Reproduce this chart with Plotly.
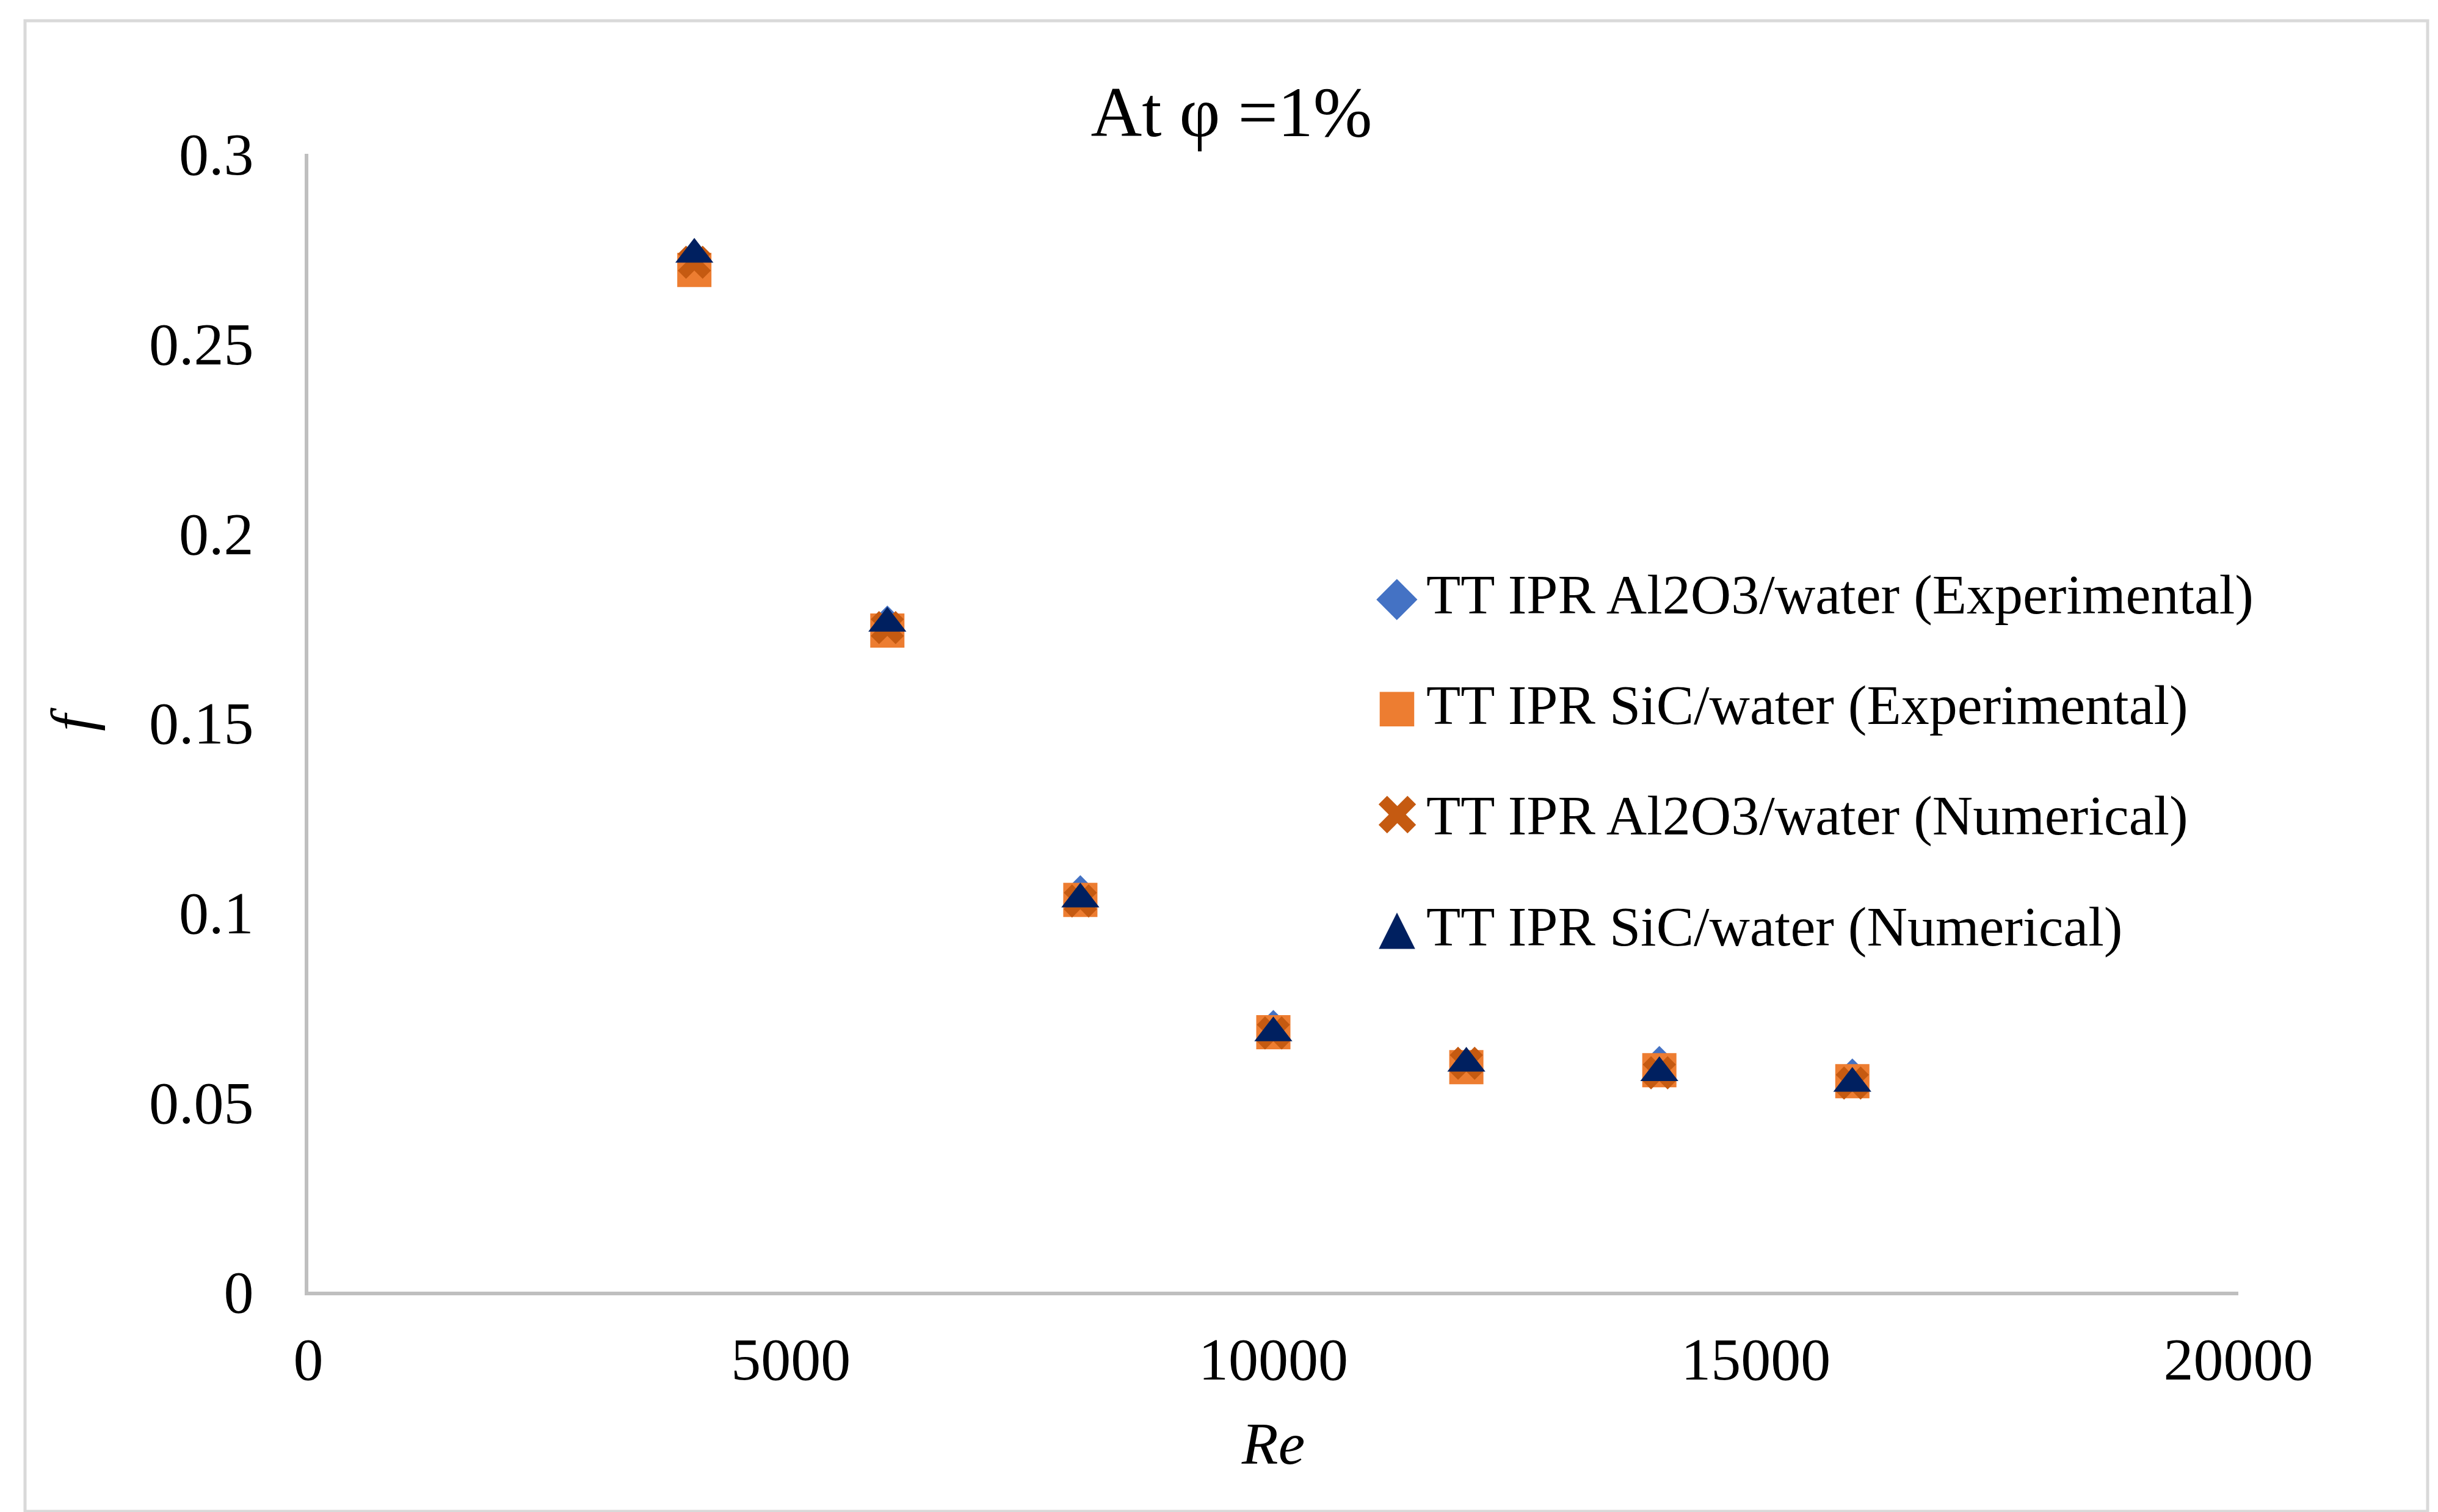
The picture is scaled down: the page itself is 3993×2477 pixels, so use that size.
import plotly.graph_objects as go

re_values = [4000, 6000, 8000, 10000, 12000, 14000, 16000]
f_al2o3_exp = [0.2710, 0.1765, 0.1054, 0.0699, 0.0596, 0.0604, 0.0571]
f_sic_exp = [0.2694, 0.1743, 0.1033, 0.0684, 0.0592, 0.0584, 0.0555]
f_al2o3_num = [0.2714, 0.1751, 0.1030, 0.0682, 0.0602, 0.0577, 0.0550]
f_sic_num = [0.2735, 0.1762, 0.1035, 0.0682, 0.0602, 0.0577, 0.0549]

names = [
    "TT IPR Al2O3/water (Experimental)",
    "TT IPR SiC/water (Experimental)",
    "TT IPR Al2O3/water (Numerical)",
    "TT IPR SiC/water (Numerical)",
]
series = [f_al2o3_exp, f_sic_exp, f_al2o3_num, f_sic_num]
symbols = ["diamond", "square", "x", "triangle-up"]
legend_glyphs = ["◆", "■", "✖", "▲"]
legend_glyph_sizes = [88, 74, 92, 78]
colors = ["#4472C4", "#ED7D31", "#C55A11", "#002060"]
sizes = [42, 56, 48, 54]

FONT = "Liberation Serif, Times New Roman, serif"

fig = go.Figure()
for i in range(4):
    fig.add_trace(go.Scatter(
        x=re_values, y=series[i], mode="markers", name=names[i],
        showlegend=False,
        marker=dict(symbol=symbols[i], color=colors[i], size=sizes[i],
                    line=dict(width=0)),
    ))

W, H = 3993, 2477
L, R, T, B = 497, 335, 244, 369
pw, ph = W - L - R, H - T - B

def px_x(p):
    return (p - L) / pw

def px_y(p):
    return (H - B - p) / ph

fig.update_layout(
    width=W, height=H,
    margin=dict(l=L, r=R, t=T, b=B),
    paper_bgcolor="white", plot_bgcolor="white",
    font=dict(family=FONT, size=98, color="black"),
    title=dict(text="At φ =1%", x=2009 / W, y=1 - 174 / H,
               xanchor="center", yanchor="middle",
               font=dict(family=FONT, size=116, color="black")),
    xaxis=dict(range=[0, 20000], dtick=5000, tickformat="d",
               showgrid=False, zeroline=False, showline=True,
               linecolor="#BFBFBF", linewidth=6,
               ticks="", ticklabelstandoff=20,
               tickfont=dict(family=FONT, size=98),
               title=dict(text="<i>Re</i>", standoff=52,
                          font=dict(family=FONT, size=98))),
    yaxis=dict(range=[0, 0.3], dtick=0.05,
               showgrid=False, zeroline=False, showline=True,
               linecolor="#BFBFBF", linewidth=6,
               ticks="", ticklabelstandoff=64,
               tickfont=dict(family=FONT, size=98),
               title=dict(text="<i>f</i>", standoff=62,
                          font=dict(family=FONT, size=98))),
    showlegend=False,
)

# legend drawn as text rows (symbol + label)
row_y = [966, 1147, 1328, 1510]
for i in range(4):
    fig.add_annotation(xref="paper", yref="paper", x=px_x(2280), y=px_y(row_y[i]),
                       text=legend_glyphs[i], showarrow=False,
                       xanchor="center", yanchor="middle",
                       font=dict(family="DejaVu Sans", size=legend_glyph_sizes[i],
                                 color=colors[i]))
    fig.add_annotation(xref="paper", yref="paper", x=px_x(2326), y=px_y(row_y[i]),
                       text=names[i], showarrow=False,
                       xanchor="left", yanchor="middle",
                       font=dict(family=FONT, size=92, color="black"))

fig.add_shape(type="rect", xref="paper", yref="paper",
              x0=px_x(33), x1=px_x(3968), y0=px_y(2468), y1=px_y(26),
              line=dict(color="#D9D9D9", width=5), fillcolor="rgba(0,0,0,0)",
              layer="below")

fig.write_html("out.html")
